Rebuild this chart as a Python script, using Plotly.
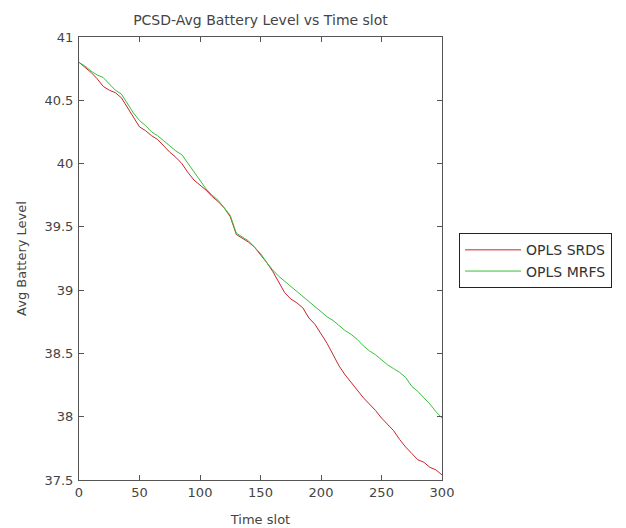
import plotly.graph_objects as go

time_slots = list(range(0, 301, 5))

opls_srds = [40.80, 40.76, 40.72, 40.67, 40.61, 40.58, 40.56, 40.52, 40.44, 40.36,
             40.29, 40.26, 40.22, 40.19, 40.14, 40.09, 40.05, 40.00, 39.93, 39.87,
             39.83, 39.79, 39.74, 39.70, 39.65, 39.58, 39.44, 39.41, 39.38, 39.34,
             39.28, 39.22, 39.15, 39.07, 38.98, 38.93, 38.90, 38.86, 38.78, 38.73,
             38.66, 38.58, 38.49, 38.40, 38.33, 38.27, 38.21, 38.15, 38.10, 38.05,
             37.99, 37.94, 37.89, 37.82, 37.76, 37.71, 37.66, 37.64, 37.60, 37.58,
             37.54]

opls_mrfs = [40.80, 40.77, 40.73, 40.70, 40.68, 40.63, 40.58, 40.55, 40.47, 40.40,
             40.34, 40.30, 40.25, 40.22, 40.18, 40.14, 40.10, 40.07, 40.00, 39.93,
             39.86, 39.80, 39.75, 39.71, 39.65, 39.59, 39.45, 39.42, 39.39, 39.34,
             39.29, 39.22, 39.16, 39.11, 39.07, 39.03, 38.99, 38.95, 38.91, 38.87,
             38.83, 38.79, 38.76, 38.72, 38.68, 38.65, 38.61, 38.56, 38.52, 38.49,
             38.45, 38.41, 38.38, 38.35, 38.31, 38.24, 38.20, 38.15, 38.10, 38.04,
             37.99]

x_ticks = [0, 50, 100, 150, 200, 250, 300]
y_ticks = [37.5, 38, 38.5, 39, 39.5, 40, 40.5, 41]
y_tick_labels = ["37.5", "38", "38.5", "39", "39.5", "40", "40.5", "41"]

font = dict(family="DejaVu Sans, sans-serif", size=13, color="#444444")

fig = go.Figure()
fig.add_trace(go.Scatter(x=time_slots, y=opls_srds, mode="lines", name="OPLS SRDS",
                         line=dict(color="#c8242c", width=1)))
fig.add_trace(go.Scatter(x=time_slots, y=opls_mrfs, mode="lines", name="OPLS MRFS",
                         line=dict(color="#38c038", width=1)))

axis_common = dict(showgrid=False, zeroline=False, showline=True, linecolor="#555555",
                   linewidth=1, mirror="ticks", ticks="inside", ticklen=5,
                   tickcolor="#555555", tickfont=font, automargin=False)

fig.update_layout(
    width=626, height=528,
    margin=dict(l=79, r=184, t=37, b=48),
    paper_bgcolor="white", plot_bgcolor="white",
    font=font,
    title=dict(text="PCSD-Avg Battery Level vs Time slot", xref="paper", x=0.5,
               xanchor="center", y=1 - 20 / 528, yanchor="middle",
               font=dict(family="DejaVu Sans, sans-serif", size=14, color="#444444")),
    xaxis=dict(range=[0, 300], tickvals=x_ticks,
               title=dict(text="Time slot", font=font, standoff=16), **axis_common),
    yaxis=dict(range=[37.5, 41], tickvals=y_ticks, ticktext=y_tick_labels,
               ticklabelstandoff=2,
               title=dict(text="Avg Battery Level", font=font, standoff=14), **axis_common),
    legend=dict(x=1.047, y=0.557, xanchor="left", yanchor="top",
                bordercolor="#222222", borderwidth=1, bgcolor="white",
                font=dict(family="DejaVu Sans, sans-serif", size=14, color="#333333"),
                itemwidth=56, tracegroupgap=0),
    showlegend=True,
)

fig.write_html("out.html")
